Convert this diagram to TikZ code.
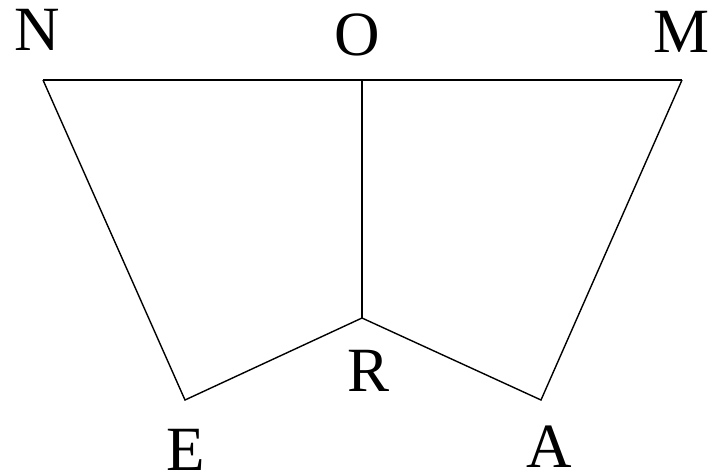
\documentclass[tikz,border=0pt]{standalone}
\usepackage{fontspec}
\setmainfont{Liberation Serif}
\tikzset{lbl/.style={inner sep=0pt, font=\fontsize{63}{66}\selectfont}}
\begin{document}
\begin{tikzpicture}[x=1pt,y=-1pt, line width=1.4pt]
\useasboundingbox (0,0) rectangle (716,474);
\coordinate (n) at (43,80);
\coordinate (o) at (362,80);
\coordinate (m) at (682,80);
\coordinate (r) at (362,318);
\coordinate (e) at (185,400);
\coordinate (a) at (541,400);
\node[lbl] (ln) at (37.5,30) {N};
\node[lbl] (lo) at (357,35) {O};
\node[lbl] (lm) at (682,32) {M};
\node[lbl] (lr) at (369,371) {R};
\node[lbl] (le) at (186,450) {E};
\node[lbl] (la) at (549,447) {A};
\draw (n) -- (o) -- (m);
\draw (n) -- (e) -- (r) -- (a) -- (m);
\draw (o) -- (r);
\end{tikzpicture}
\end{document}
